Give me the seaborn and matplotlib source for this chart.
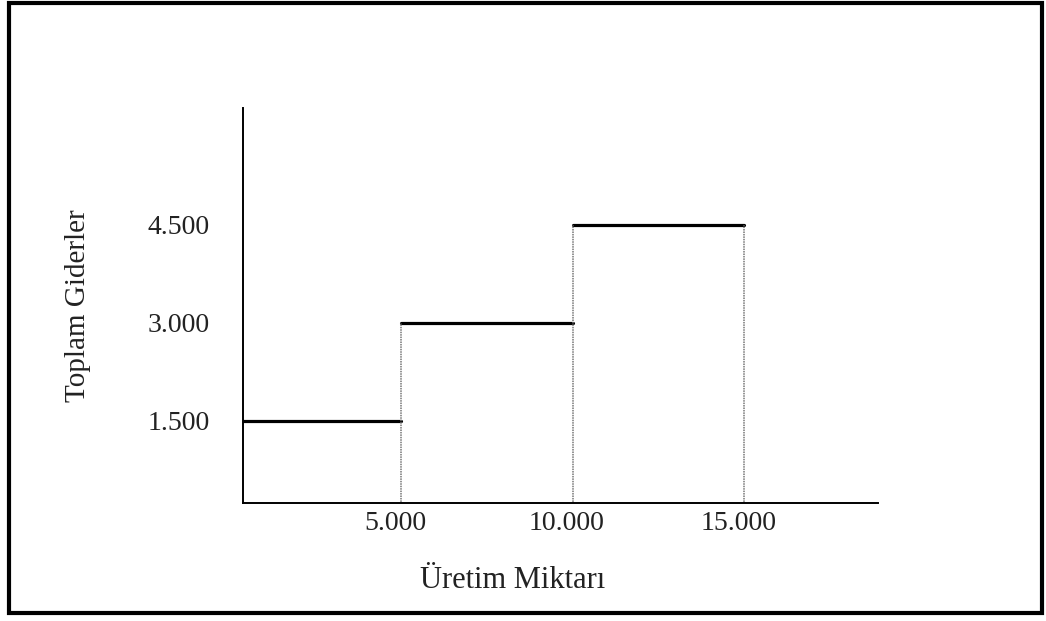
import numpy as np
import pandas as pd
import seaborn as sns
import matplotlib.pyplot as plt
from matplotlib.patches import Rectangle
from matplotlib.transforms import ScaledTranslation

# step cost data
edges = [0, 5000, 10000, 15000]
costs = [1500, 3000, 4500]
xticks = [5000, 10000, 15000]
xtick_labels = ["5.000", "10.000", "15.000"]
yticks = [1500, 3000, 4500]
ytick_labels = ["1.500", "3.000", "4.500"]

sns.set_style("white")
plt.rcParams['font.family'] = ['Liberation Serif', 'DejaVu Serif']

W, H = 1046, 621
fig = plt.figure(figsize=(W / 100, H / 100), dpi=100)
ax = fig.add_axes([243 / W, 1 - 503 / H, 635 / W, 395 / H])

# horizontal segments of the step function
rows = []
for i, c in enumerate(costs):
    rows.append({"seg": i, "x": edges[i], "y": c})
    rows.append({"seg": i, "x": edges[i + 1], "y": c})
seg_df = pd.DataFrame(rows)
sns.lineplot(data=seg_df, x="x", y="y", units="seg", estimator=None,
             color="black", linewidth=2.3, ax=ax, legend=False)

# dotted verticals up to the higher neighbouring step
tops = [max(costs[i], costs[i + 1]) if i + 1 < len(costs) else costs[i]
        for i in range(len(costs))]
ax.vlines(edges[1:], 0, tops, colors="#777777", linestyles=(0, (1, 0.6)),
          linewidth=1.1)

ax.set_xlim(400, 18900)
ax.set_ylim(245, 6290)
ax.set_xticks(xticks)
ax.set_xticklabels(xtick_labels)
ax.set_yticks(yticks)
ax.set_yticklabels(ytick_labels)
ax.tick_params(axis="both", length=0, labelsize=20, colors="#222222")
ax.tick_params(axis="y", pad=24)
ax.tick_params(axis="x", pad=6)
shift = ScaledTranslation(-6 / 100, 0, fig.dpi_scale_trans)
for lbl in ax.get_xticklabels():
    lbl.set_transform(lbl.get_transform() + shift)

for side in ["top", "right"]:
    ax.spines[side].set_visible(False)
for side in ["left", "bottom"]:
    ax.spines[side].set_color("black")
    ax.spines[side].set_linewidth(1.4)

ax.set_xlabel("")
ax.set_ylabel("")
fig.text(513 / W, 1 - 580 / H, "Üretim Miktarı", fontsize=22,
         ha="center", va="center", color="#222222")
fig.text(78 / W, 1 - 306 / H, "Toplam Giderler", fontsize=21,
         ha="center", va="center", rotation=90, color="#222222")

# frame around the whole picture
fig.patches.append(Rectangle((9 / W, 1 - 613 / H), 1033 / W, 610 / H,
                             transform=fig.transFigure, fill=False,
                             edgecolor="black", linewidth=3.0))

fig.savefig("out.png", dpi=100)
